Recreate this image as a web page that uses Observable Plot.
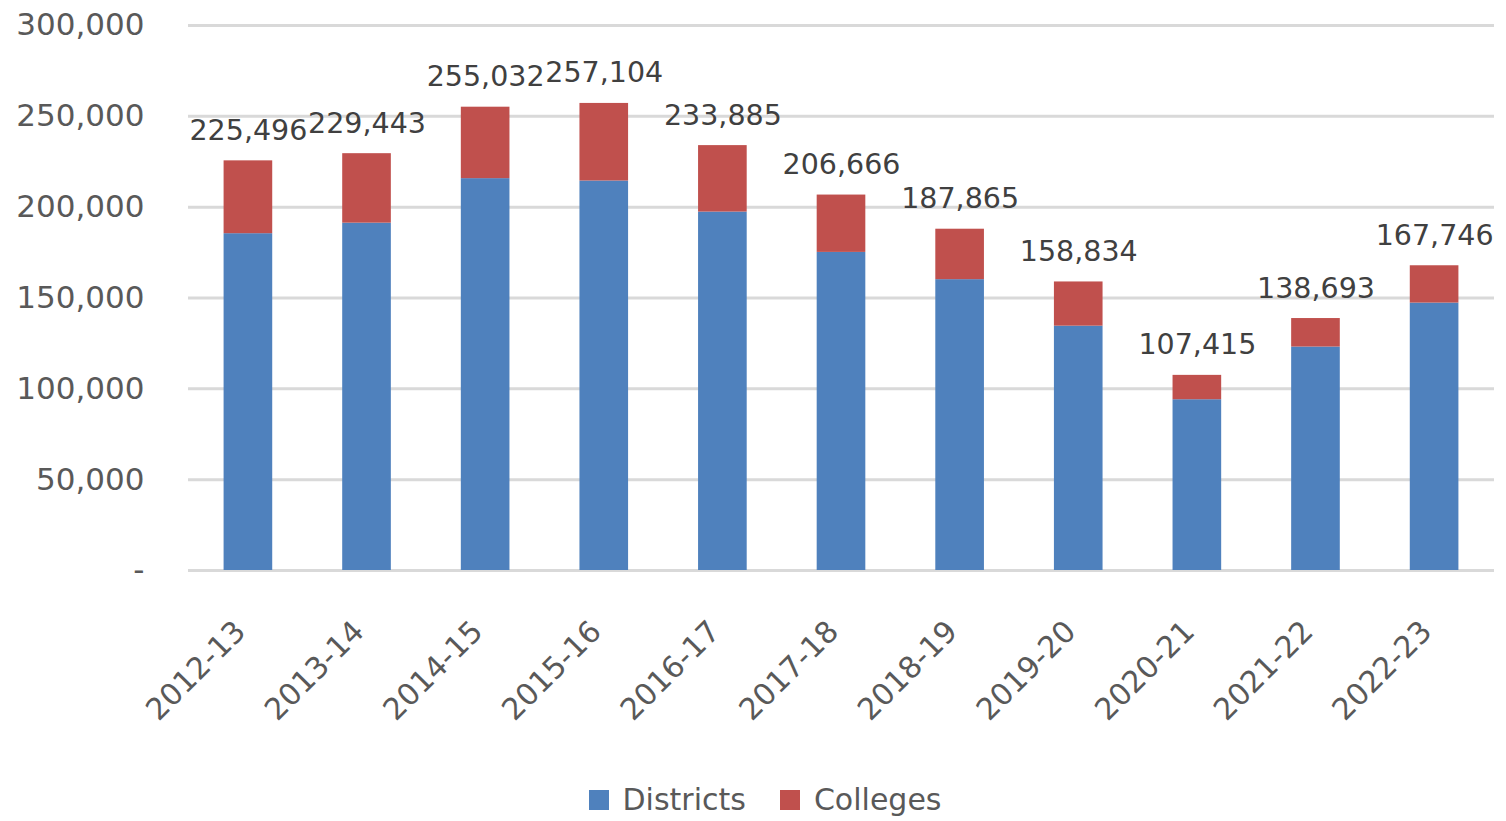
<!DOCTYPE html>
<html>
<head>
<meta charset="utf-8">
<script src="https://cdn.jsdelivr.net/npm/d3@7"></script>
<script src="https://cdn.jsdelivr.net/npm/@observablehq/plot@0.6"></script>
<style>
  body { margin: 0; background: #fff; font-family: "DejaVu Sans", sans-serif; }
  #legend { display: flex; justify-content: center; align-items: center; gap: 34px; height: 61px; padding-top: 18px; font-size: 30px; color: #595959; padding-left: 24px; box-sizing: border-box; }
  #legend span.sw { display: inline-block; width: 20px; height: 20px; margin-right: 14px; }
  #legend div { display: flex; align-items: center; }
</style>
</head>
<body>
<div id="chart"></div>
<div id="legend"></div>
<script>
const years = ["2012-13","2013-14","2014-15","2015-16","2016-17","2017-18","2018-19","2019-20","2020-21","2021-22","2022-23"];
const totals = [225496, 229443, 255032, 257104, 233885, 206666, 187865, 158834, 107415, 138693, 167746];
const districts = [185400, 191200, 215700, 214400, 197300, 175100, 160100, 134500, 94000, 123000, 147200];
const seriesNames = ["Districts", "Colleges"];
const seriesColors = ["#4f81bd", "#c0504d"];
const yTicks = [0, 50000, 100000, 150000, 200000, 250000, 300000];

const rows = [];
years.forEach((y, i) => {
  rows.push({year: y, series: "Districts", value: districts[i]});
  rows.push({year: y, series: "Colleges", value: totals[i] - districts[i]});
});
const totalRows = years.map((y, i) => ({year: y, total: totals[i]}));
const fmt = d3.format(",");

const chart = Plot.plot({
  width: 1506,
  height: 760,
  marginLeft: 188,
  marginRight: 12,
  marginTop: 25,
  marginBottom: 190,
  style: {fontFamily: "DejaVu Sans, sans-serif", color: "#595959", background: "#fff"},
  x: {domain: years, paddingInner: 0.59, paddingOuter: 0.3, round: false, label: null},
  y: {domain: [0, 300000], label: null},
  color: {domain: seriesNames, range: seriesColors},
  marks: [
    Plot.gridY(yTicks, {stroke: "#d9d9d9", strokeOpacity: 1, strokeWidth: 3}),
    Plot.barY(rows, {x: "year", y: "value", fill: "series", order: seriesNames}),
    Plot.axisY(yTicks, {tickSize: 0, tickPadding: 44, fontSize: 31, tickFormat: d => d === 0 ? "-" : fmt(d), fill: "#595959"}),
    Plot.axisX({tickSize: 0, tickPadding: 56, dx: -8, tickRotate: -45, fontSize: 30, fill: "#595959"}),
    Plot.text(totalRows, {x: "year", y: "total", text: d => fmt(d.total), lineAnchor: "bottom", dy: -21, fontSize: 28.5, fill: "#404040"})
  ]
});
document.getElementById("chart").appendChild(chart);

const legend = document.getElementById("legend");
seriesNames.forEach((s, i) => {
  const item = document.createElement("div");
  item.innerHTML = `<span class="sw" style="background:${seriesColors[i]}"></span>${s}`;
  legend.appendChild(item);
});
</script>
</body>
</html>
